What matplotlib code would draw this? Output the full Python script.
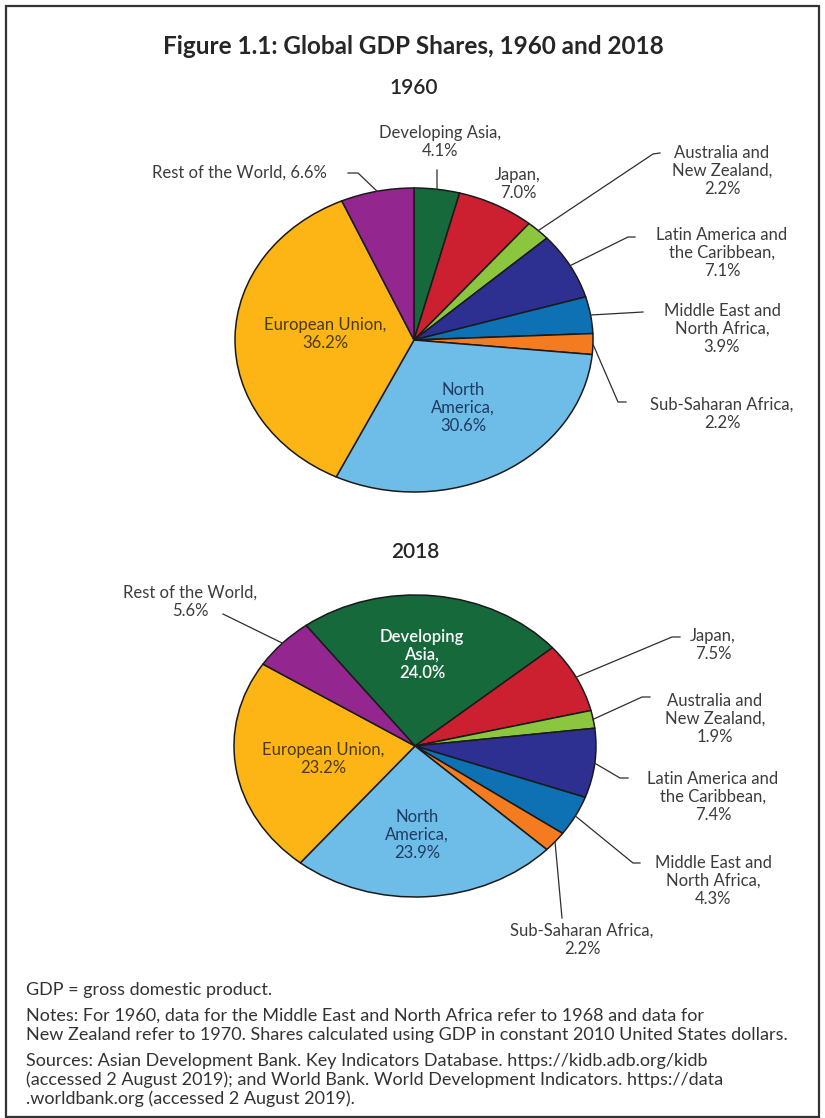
import numpy as np
import matplotlib
matplotlib.use("Agg")
import matplotlib.pyplot as plt
from matplotlib.patches import Rectangle

plt.rcParams['font.family'] = ['Lato', 'DejaVu Sans']

# data
regions = ["Developing Asia", "Japan", "Australia and New Zealand",
           "Latin America and the Caribbean", "Middle East and North Africa",
           "Sub-Saharan Africa", "North America", "European Union",
           "Rest of the World"]
share_1960 = [4.1, 7.0, 2.2, 7.1, 3.9, 2.2, 30.6, 36.2, 6.6]
share_2018 = [24.0, 7.5, 1.9, 7.4, 4.3, 2.2, 23.9, 23.2, 5.6]
colors = ["#15693a", "#cc1f30", "#8cc63e", "#2d2f91", "#0d71b3",
          "#f47b20", "#6dbde8", "#fdb515", "#93278f"]

labels_1960 = ["Developing Asia,\n", "Japan,\n", "Australia and\nNew Zealand,\n",
               "Latin America and\nthe Caribbean,\n", "Middle East and\nNorth Africa,\n",
               "Sub-Saharan Africa,\n", "North\nAmerica,\n", "European Union,\n",
               "Rest of the World, "]
labels_2018 = ["Developing\nAsia,\n", "Japan,\n", "Australia and\nNew Zealand,\n",
               "Latin America and\nthe Caribbean,\n", "Middle East and\nNorth Africa,\n",
               "Sub-Saharan Africa,\n", "North\nAmerica,\n", "European Union,\n",
               "Rest of the World,\n"]

title = "Figure 1.1: Global GDP Shares, 1960 and 2018"
notes = [
    "GDP = gross domestic product.",
    "Notes: For 1960, data for the Middle East and North Africa refer to 1968 and data for",
    "New Zealand refer to 1970. Shares calculated using GDP in constant 2010 United States dollars.",
    "Sources: Asian Development Bank. Key Indicators Database. https://kidb.adb.org/kidb",
    "(accessed 2 August 2019); and World Bank. World Development Indicators. https://data",
    ".worldbank.org (accessed 2 August 2019).",
]

W, H = 825, 1118
TXT = "#3c3c3c"
EU_TXT = "#4a3a12"
NA_TXT = "#1f3b60"

# label layout: (x, y, ha, colour, leader points after the wedge edge)
layout_1960 = [
    (440, 142, 'center', TXT, [(437, 170)]),
    (518, 184, 'center', TXT, None),
    (722, 171, 'center', TXT, [(653, 154), (660, 153)]),
    (722, 253, 'center', TXT, [(628, 237), (635, 237)]),
    (722, 329, 'center', TXT, [(643, 312)]),
    (722, 414, 'center', TXT, [(618, 402), (626, 402)]),
    (463, 408, 'center', NA_TXT, None),
    (325, 334, 'center', EU_TXT, None),
    (327, 173, 'right', TXT, [(358, 173), (348, 173)]),
]
layout_2018 = [
    (422, 655, 'center', 'white', None),
    (713, 645, 'center', TXT, [(672, 637), (680, 637)]),
    (715, 719, 'center', TXT, [(642, 697), (650, 697)]),
    (713, 797, 'center', TXT, [(620, 778), (628, 778)]),
    (713, 881, 'center', TXT, [(633, 863), (640, 863)]),
    (582, 940, 'center', TXT, [(562, 918)]),
    (417, 835, 'center', NA_TXT, None),
    (323, 759, 'center', EU_TXT, None),
    (190, 602, 'center', TXT, [(223, 614)]),
]

fig = plt.figure(figsize=(W / 100, H / 100), dpi=100)
ov = fig.add_axes([0, 0, 1, 1])
ov.set_xlim(0, W)
ov.set_ylim(H, 0)
ov.axis('off')
ov.patch.set_visible(False)
ov.set_zorder(10)

ov.add_patch(Rectangle((6, 6), 813, 1111, fill=False, edgecolor="#333333", lw=1.6))

ov.text(413, 46, title, ha='center', va='center', fontsize=17.5,
        fontweight='bold', color="#262626")


def draw_pie(values, labels, layout, start, cx, cy, rx, ry, year, year_y):
    ax = fig.add_axes([(cx - rx) / W, (H - cy - ry) / H, 2 * rx / W, 2 * ry / H])
    wedges, _ = ax.pie(values, colors=colors, startangle=start, counterclock=False,
                       wedgeprops=dict(edgecolor="#1a1a1a", linewidth=1.1))
    ax.set_aspect('auto')
    ax.set_xlim(-1, 1)
    ax.set_ylim(-1, 1)
    for w in wedges:
        w.set_clip_on(False)
    ov.text(cx, year_y, year, ha='center', va='center', fontsize=15,
            fontweight='semibold', color="#262626")
    for w, lab, v, (x, y, ha, col, path) in zip(wedges, labels, values, layout):
        ov.text(x, y, lab + f"{v:.1f}%", ha=ha, va='center', fontsize=12,
                color=col, linespacing=1.15,
                fontweight='semibold' if col == 'white' else 'normal')
        if path:
            mid = np.deg2rad((w.theta1 + w.theta2) / 2)
            xs = [cx + rx * np.cos(mid)] + [p[0] for p in path]
            ys = [cy - ry * np.sin(mid)] + [p[1] for p in path]
            ov.plot(xs, ys, color="#2e2e2e", lw=0.9)


draw_pie(share_1960, labels_1960, layout_1960, 90, 414, 340, 179, 152, "1960", 88)
draw_pie(share_2018, labels_2018, layout_2018, 127, 415, 746, 181, 151, "2018", 552)

note_y = [990, 1016, 1035, 1061, 1080, 1099]
for y, line in zip(note_y, notes):
    ov.text(26, y, line, ha='left', va='center', fontsize=13, color="#333333")

fig.savefig("out.png", dpi=100)
